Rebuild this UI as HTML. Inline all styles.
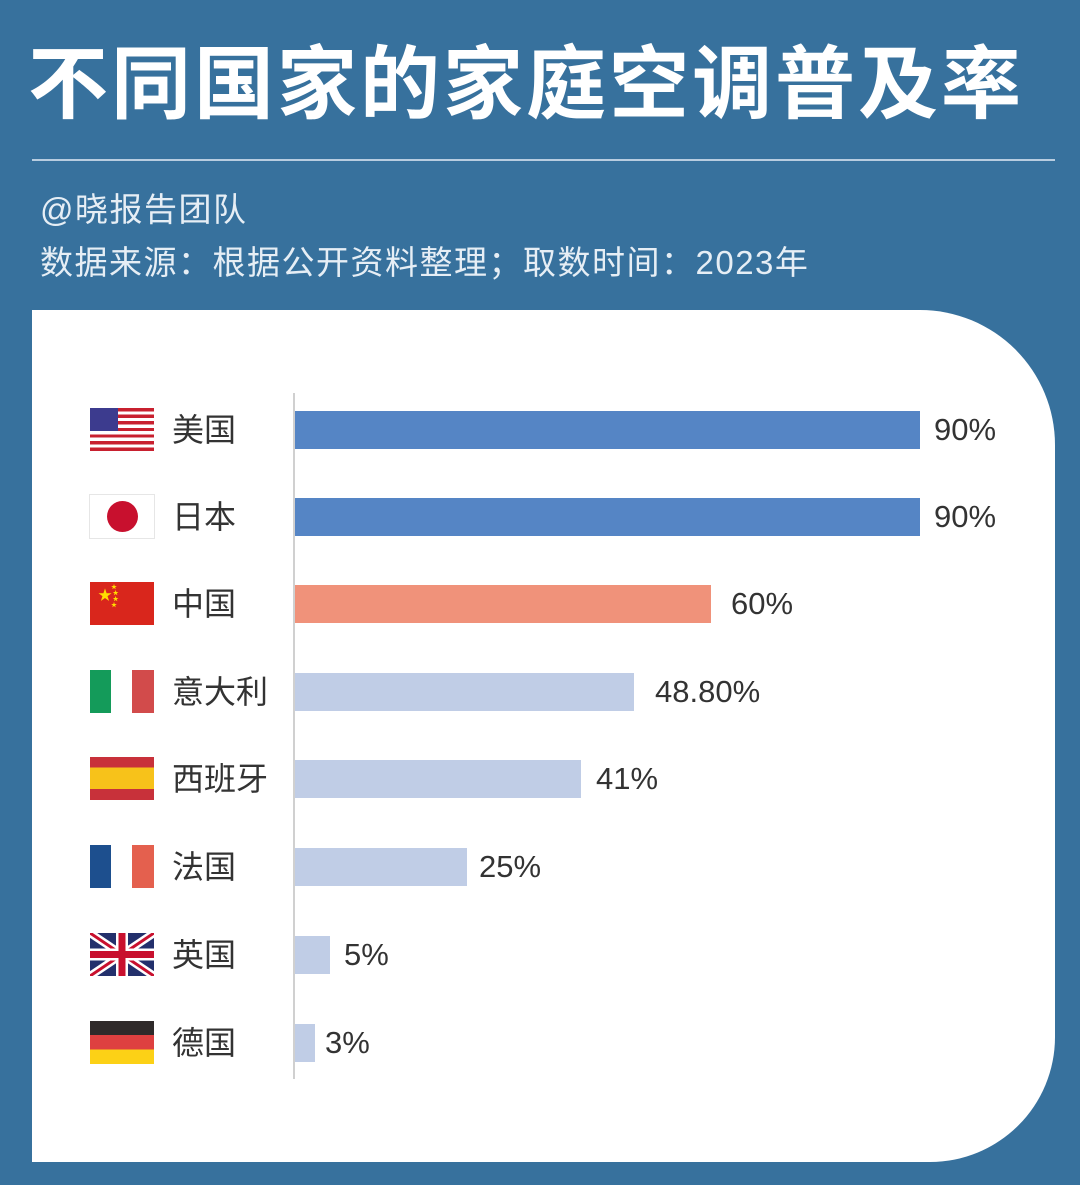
<!DOCTYPE html>
<html><head><meta charset="utf-8"><style>
body{margin:0;width:1080px;height:1185px;background:#37719d;position:relative;overflow:hidden;font-family:"Liberation Sans","Noto Sans CJK SC",sans-serif}
.t{position:absolute;left:28px;top:40px;font-size:80px;font-weight:bold;color:#fff;letter-spacing:3px;line-height:90px;white-space:nowrap}
.hr{position:absolute;left:32px;top:159px;width:1023px;height:2px;background:#b8cde0}
.s{position:absolute;left:40px;font-size:33px;color:#e6eef5;line-height:40px;letter-spacing:1.5px;white-space:nowrap}
.panel{position:absolute;left:32px;top:310px;width:1023px;height:852px;background:#fff;border-top-right-radius:135px 135px;border-bottom-right-radius:125px 125px}
.ax{position:absolute;left:293px;top:393px;width:2px;height:686px;background:#d0d0d0}
.bar{position:absolute;left:295px;height:38px}
.v{position:absolute;font-size:31px;color:#333;line-height:38px}
.n{position:absolute;left:172px;font-size:32px;color:#333;line-height:38px}
.f{position:absolute;left:90px;width:64px;height:43px}
</style></head><body>
<div class="t">不同国家的家庭空调普及率</div>
<div class="hr"></div>
<div class="s" style="top:190px">@晓报告团队</div>
<div class="s" style="top:243px">数据来源：根据公开资料整理；取数时间：2023年</div>
<div class="panel"></div>
<div class="ax"></div>

<div class="bar" style="top:411px;width:625px;background:#5585c5"></div><div class="v" style="left:934px;top:411px">90%</div>
<div class="bar" style="top:498px;width:625px;background:#5585c5"></div><div class="v" style="left:934px;top:498px">90%</div>
<div class="bar" style="top:585px;width:416px;background:#f0927a"></div><div class="v" style="left:731px;top:585px">60%</div>
<div class="bar" style="top:673px;width:339px;background:#c0cde6"></div><div class="v" style="left:655px;top:673px">48.80%</div>
<div class="bar" style="top:760px;width:286px;background:#c0cde6"></div><div class="v" style="left:596px;top:760px">41%</div>
<div class="bar" style="top:848px;width:172px;background:#c0cde6"></div><div class="v" style="left:479px;top:848px">25%</div>
<div class="bar" style="top:936px;width:35px;background:#c0cde6"></div><div class="v" style="left:344px;top:936px">5%</div>
<div class="bar" style="top:1024px;width:20px;background:#c0cde6"></div><div class="v" style="left:325px;top:1024px">3%</div>

<div class="n" style="top:411px">美国</div>
<div class="n" style="top:498px">日本</div>
<div class="n" style="top:585px">中国</div>
<div class="n" style="top:673px">意大利</div>
<div class="n" style="top:760px">西班牙</div>
<div class="n" style="top:848px">法国</div>
<div class="n" style="top:936px">英国</div>
<div class="n" style="top:1024px">德国</div>

<div class="f" style="top:408px;background:repeating-linear-gradient(#c8202f 0 3.3px,#fff 3.3px 6.6px)"><div style="width:28px;height:23px;background:#3c3b8e"></div></div>
<div class="f" style="top:495px;background:#fff;box-shadow:0 0 0 1px #e6e6e6"><div style="position:absolute;left:17px;top:6px;width:31px;height:31px;border-radius:50%;background:#c8102e"></div></div>
<div class="f" style="top:582px;background:#d9261c"><div style="position:absolute;left:8px;top:6px;color:#ffde00;font-size:14px;line-height:14px">★</div><div style="position:absolute;left:21px;top:3px;color:#ffde00;font-size:6px;line-height:6px">★<br>&nbsp;★<br>&nbsp;★<br>★</div></div>
<div class="f" style="top:670px;background:linear-gradient(90deg,#149b5a 0 33%,#fff 33% 66%,#d24b4b 66%)"></div>
<div class="f" style="top:757px;background:linear-gradient(#c8313a 0 25%,#f7c21a 25% 75%,#c8313a 75%)"></div>
<div class="f" style="top:845px;background:linear-gradient(90deg,#1d4f8e 0 33%,#fff 33% 66%,#e4604e 66%)"></div>
<div class="f" style="top:933px;background:#23306c;overflow:hidden">
<svg width="64" height="43" viewBox="0 0 64 43"><path d="M0 0L64 43M64 0L0 43" stroke="#fff" stroke-width="8"/><path d="M0 0L64 43M64 0L0 43" stroke="#c8102e" stroke-width="3"/><path d="M32 0V43M0 21.5H64" stroke="#fff" stroke-width="12"/><path d="M32 0V43M0 21.5H64" stroke="#c8102e" stroke-width="7"/></svg></div>
<div class="f" style="top:1021px;background:linear-gradient(#2f2a2a 0 33%,#de4040 33% 66%,#fcd116 66%)"></div>
</body></html>
